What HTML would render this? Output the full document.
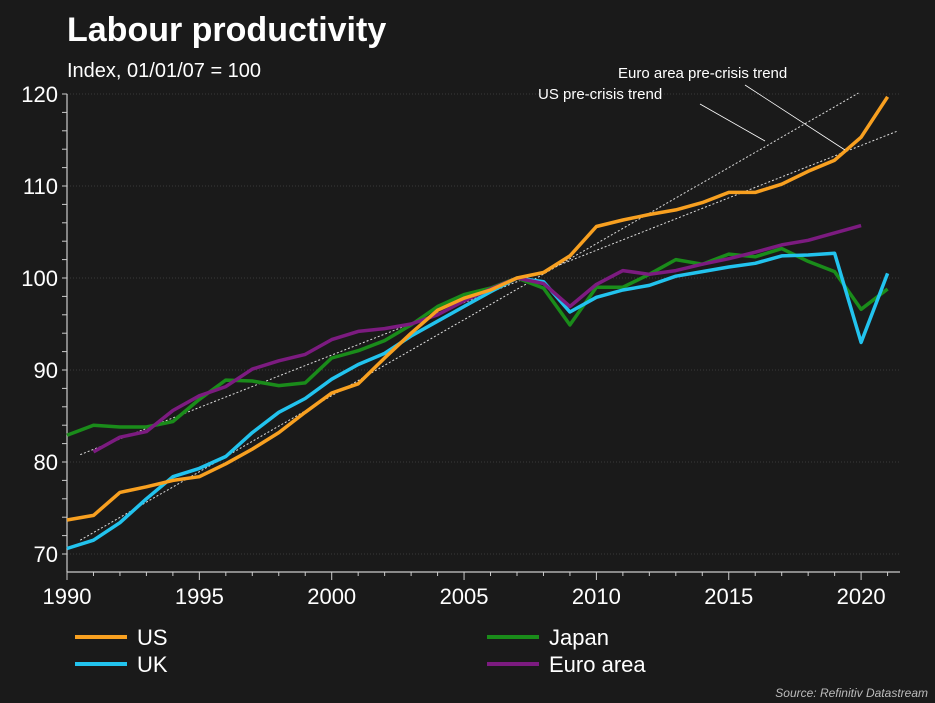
<!DOCTYPE html>
<html><head><meta charset="utf-8"><style>
html,body{margin:0;padding:0;background:#1a1a1a;}
svg{display:block;font-family:"Liberation Sans",Arial,sans-serif;}
</style></head><body>
<svg id="chart" width="935" height="703" viewBox="0 0 935 703">
<rect x="0" y="0" width="935" height="703" fill="#1a1a1a"/>
<text x="67" y="41" fill="#fff" font-size="34" font-weight="bold">Labour productivity</text>
<text x="67" y="77" fill="#fff" font-size="20">Index, 01/01/07 = 100</text>
<g id="grid"></g><g id="axes"></g><g id="trends"></g><g id="series"></g>
<text x="618" y="78" fill="#fff" font-size="15">Euro area pre-crisis trend</text>
<text x="538" y="99" fill="#fff" font-size="15">US pre-crisis trend</text>
<line x1="745" y1="85" x2="845" y2="150" stroke="#fff" stroke-width="0.8"/>
<line x1="700" y1="104" x2="765" y2="141" stroke="#fff" stroke-width="0.8"/>
<g id="legend"></g>
<text x="928" y="697" fill="#bbb" font-size="12" font-style="italic" text-anchor="end">Source: Refinitiv Datastream</text>
</svg>
<script>
const years = [1990,1991,1992,1993,1994,1995,1996,1997,1998,1999,2000,2001,2002,2003,2004,2005,2006,2007,2008,2009,2010,2011,2012,2013,2014,2015,2016,2017,2018,2019,2020,2021];
const usValues = [73.7,74.2,76.7,77.3,78.0,78.4,79.8,81.4,83.2,85.4,87.5,88.5,91.3,94.0,96.5,97.8,98.7,100,100.6,102.4,105.6,106.3,106.9,107.4,108.2,109.3,109.3,110.2,111.6,112.8,115.3,119.7];
const ukValues = [70.6,71.5,73.4,76.0,78.4,79.3,80.6,83.2,85.4,86.9,89.0,90.6,91.8,93.7,95.3,96.9,98.5,100,99.6,96.3,97.9,98.7,99.2,100.2,100.7,101.2,101.6,102.4,102.5,102.7,93.0,100.5];
const japanValues = [82.9,84.0,83.8,83.8,84.4,86.8,88.9,88.8,88.3,88.6,91.3,92.1,93.2,94.9,96.9,98.2,98.9,100,98.9,94.9,99.0,99.0,100.4,102.0,101.5,102.6,102.3,103.2,101.8,100.7,96.6,98.8];
const euroValues = [null,81.1,82.7,83.3,85.6,87.2,88.2,90.1,91.0,91.7,93.3,94.2,94.5,95.0,96.0,97.5,98.8,100,99.4,96.9,99.3,100.8,100.4,100.8,101.5,102.1,102.8,103.6,104.1,104.9,105.7,null];
const usTrendYears = [1990.5,2019.9];
const usTrendValues = [71.5,120.1];
const euroTrendYears = [1990.5,2021.4];
const euroTrendValues = [80.8,116.0];
const yTicks = [70,80,90,100,110,120];
const xTicks = [1990,1995,2000,2005,2010,2015,2020];

const NS="http://www.w3.org/2000/svg";
const X = y => 67 + (y-1990)*26.47;
const Y = v => 554 - (v-70)*9.2;
function mk(tag, attrs, parent){const e=document.createElementNS(NS,tag);for(const k in attrs)e.setAttribute(k,attrs[k]);parent.appendChild(e);return e;}
const grid=document.getElementById('grid'), axes=document.getElementById('axes');
yTicks.forEach(v=>{
  const g=mk('line',{x1:67,x2:900,y1:Y(v),y2:Y(v),stroke:'#444','stroke-width':0.8,'stroke-dasharray':'1,2'},grid);
  
  
  const t=mk('text',{x:58,y:Y(v)+8,fill:'#fff','font-size':22,'text-anchor':'end'},axes);
  t.textContent=v;
  
  
});
for(let v=70;v<=120;v+=2){const l=mk('line',{x1:62,x2:67,y1:Y(v),y2:Y(v),stroke:'#ccc','stroke-width':1},axes);
  
  }
const ya=mk('line',{x1:67,x2:67,y1:Y(120),y2:572,stroke:'#ccc','stroke-width':1.2},axes);


const xa=mk('line',{x1:67,x2:900,y1:572,y2:572,stroke:'#ccc','stroke-width':1.2},axes);


for(let y=1990;y<=2021;y++){const l=mk('line',{x1:X(y),x2:X(y),y1:572,y2:y%5==0?580:576,stroke:'#ccc','stroke-width':1},axes);
  
  }
xTicks.forEach(y=>{const t=mk('text',{x:X(y),y:604,fill:'#fff','font-size':22,'text-anchor':'middle'},axes);
  t.textContent=y;
  
  });
const tr=document.getElementById('trends');
[[usTrendYears,usTrendValues,'us-trend-line'],[euroTrendYears,euroTrendValues,'euro-trend-line']].forEach(([xs,vs,n])=>{
  const l=mk('line',{x1:X(xs[0]),y1:Y(vs[0]),x2:X(xs[1]),y2:Y(vs[1]),stroke:'#ddd','stroke-width':1,'stroke-dasharray':'2,2'},tr);
  
  
});
const ser=document.getElementById('series');
const defs=[[japanValues,'#1a8c1a','japan-line'],[ukValues,'#22c3ee','uk-line'],[euroValues,'#7c1b80','euro-area-line'],[usValues,'#f8a020','us-line']];
defs.forEach(([vals,c,n])=>{
  let d='';vals.forEach((v,i)=>{if(v==null)return;d+=(d?'L':'M')+X(years[i]).toFixed(1)+','+Y(v).toFixed(1);});
  const p=mk('path',{d:d,fill:'none',stroke:c,'stroke-width':3.5,'stroke-linejoin':'round'},ser);
  
  
});
const lg=document.getElementById('legend');
[['US','#f8a020',75,637],['UK','#22c3ee',75,664],['Japan','#1a8c1a',487,637],['Euro area','#7c1b80',487,664]].forEach(([lab,c,x,y])=>{
  const g=mk('g',{},lg);
  
  
  mk('line',{x1:x,x2:x+52,y1:y,y2:y,stroke:c,'stroke-width':4},g);
  const t=mk('text',{x:x+62,y:y+8,fill:'#fff','font-size':22},g);t.textContent=lab;
});
</script>
</body></html>
